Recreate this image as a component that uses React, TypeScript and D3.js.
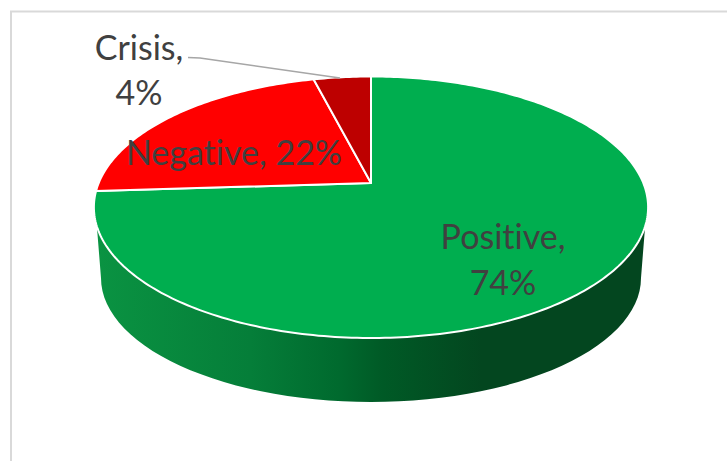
import React from "react";
import * as d3 from "d3";

const categories = ["Positive", "Negative", "Crisis"];
const shares = [74, 22, 4];
const sliceColors = ["#00ae4f", "#ff0000", "#bd0000"];

const W = 727;
const H = 461;

// Perspective tilt of the disc: the hub sits above the centre of the visible ellipse.
const hub = { x: 371, y: 183 };
const spreadX = 272.3;
const spreadY = 92.3;
const tilt = -0.1855;

function rim(angle: number): [number, number] {
  const u = Math.sin(angle);
  const v = -Math.cos(angle);
  const d = 1 + tilt * v;
  return [hub.x + (spreadX * u) / d, (hub.y + spreadY * v) / d];
}

const steps = (a: number, b: number) => {
  const n = Math.max(2, Math.ceil(Math.abs(b - a) * 60));
  return d3.range(n + 1).map((i) => a + ((b - a) * i) / n);
};

const trace = d3.line();

const arcs = d3.pie<number>().sort(null).startAngle(0).endAngle(2 * Math.PI)(shares);

function slicePath(a0: number, a1: number) {
  const pts: [number, number][] = [[hub.x, hub.y], ...steps(a0, a1).map(rim)];
  return trace(pts) + "Z";
}

// Side wall: follows the near rim, then returns along a slightly narrower lower ellipse.
const wallTopY = 226;
const base = { cx: 371, cy: 278, rx: 270, ry: 124 };

function wallPath() {
  const near = steps(0, 2 * Math.PI)
    .map(rim)
    .filter((p) => p[1] >= wallTopY)
    .sort((a, b) => b[0] - a[0]);
  const lower = d3
    .range(0, 181, 3)
    .map((deg): [number, number] => {
      const t = (deg * Math.PI) / 180;
      return [base.cx - base.rx * Math.cos(t), base.cy + base.ry * Math.sin(t)];
    });
  const pts: [number, number][] = [...near, ...lower];
  return trace(pts) + "Z";
}

const wallStops: [number, string][] = [
  [0, "#0a9342"],
  [0.28, "#057e39"],
  [0.44, "#006a2e"],
  [0.52, "#005a26"],
  [0.7, "#03461f"],
  [1, "#03461f"],
];

const font = "Lato, 'Open Sans', sans-serif";
const labelSize = 34;

export default function App() {
  return (
    <svg
      width={W}
      height={H}
      viewBox={`0 0 ${W} ${H}`}
      style={{ position: "absolute", left: 0, top: 0, display: "block" }}
    >
      <defs>
        <linearGradient id="wallShade" gradientUnits="userSpaceOnUse" x1={96} x2={647} y1={0} y2={0}>
          {wallStops.map(([o, c]) => (
            <stop key={o} offset={o} stopColor={c} />
          ))}
        </linearGradient>
      </defs>
      <rect width={W} height={H} fill="#ffffff" />
      <path d={`M11,${H}V11.5H${W}`} fill="none" stroke="#d9d9d9" strokeWidth={2} />

      <path d={wallPath()} fill="url(#wallShade)" />

      {arcs.map((a, i) => (
        <path
          key={categories[i]}
          d={slicePath(a.startAngle, a.endAngle)}
          fill={sliceColors[i]}
          stroke="#ffffff"
          strokeWidth={2}
          strokeLinejoin="round"
        />
      ))}

      <path d={trace([[188, 57.5], [200, 58], [340, 78]])!} fill="none" stroke="#a6a6a6" strokeWidth={1.5} />

      <g
        fontFamily={font}
        fontSize={labelSize}
        fill="#404040"
        textAnchor="middle"
        style={{ fontVariantLigatures: "none" }}
      >
        <text x={139} y={60}>{`${categories[2]},`}</text>
        <text x={139} y={105}>{`${shares[2]}%`}</text>
        <text x={234} y={165}>{`${categories[1]}, ${shares[1]}%`}</text>
        <text x={503} y={249}>{`${categories[0]},`}</text>
        <text x={503} y={295}>{`${shares[0]}%`}</text>
      </g>
    </svg>
  );
}
